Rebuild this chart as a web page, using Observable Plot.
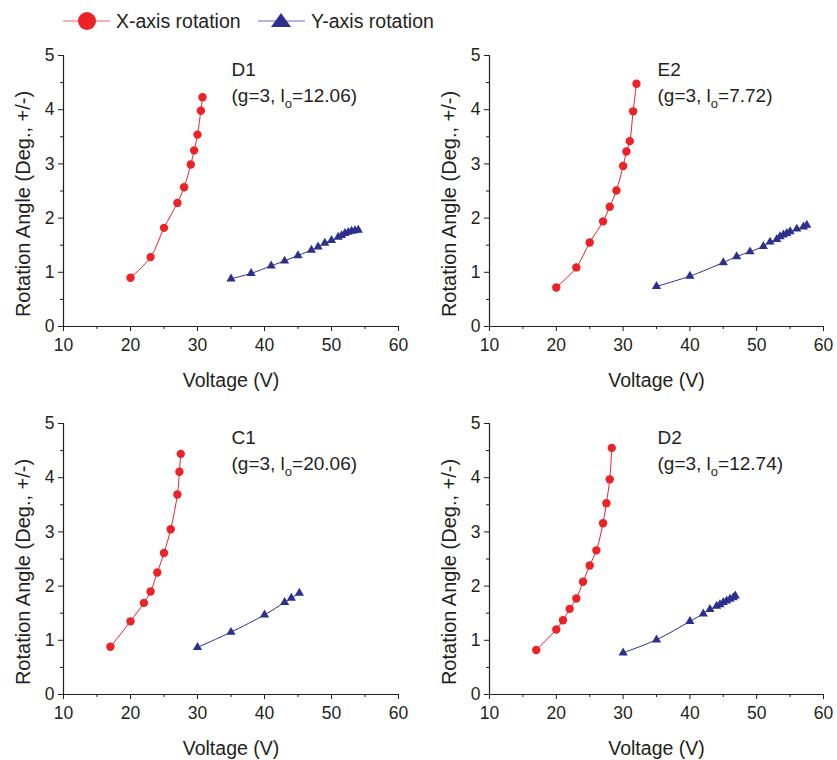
<!DOCTYPE html>
<html>
<head>
<meta charset="utf-8">
<script src="https://cdn.jsdelivr.net/npm/d3@7"></script>
<script src="https://cdn.jsdelivr.net/npm/@observablehq/plot@0.6"></script>
<style>
  body { margin: 0; background: #fff; font-family: "Liberation Sans", Arial, sans-serif; color: #231f20; }
  #wrap { position: relative; width: 837px; height: 760px; overflow: hidden; background: #fff; }
  .panel { position: absolute; }
  #legend { position: absolute; left: 0; top: 0; }
</style>
</head>
<body>
<div id="wrap">
  <svg id="legend" width="837" height="42"></svg>
</div>
<script>
// ---- tick values / labels ----
const xTicks = [10, 20, 30, 40, 50, 60];
const xMinor = [15, 25, 35, 45, 55];
const yTicks = [0, 1, 2, 3, 4, 5];
const yMinor = [0.5, 1.5, 2.5, 3.5, 4.5];
const xAxisLabel = "Voltage (V)";
const yAxisLabel = "Rotation Angle (Deg., +/-)";
const seriesNames = ["X-axis rotation", "Y-axis rotation"];
const seriesColors = ["#ed2226", "#2c2f8e"];

// ---- panel labels ----
const panelNames = ["D1", "E2", "C1", "D2"];
const gapValues = ["3", "3", "3", "3"];
const loValues = ["12.06", "7.72", "20.06", "12.74"];

// ---- D1 ----
const d1XVoltage = [20, 23, 25, 27, 28, 29, 29.5, 30, 30.5, 30.75];
const d1XAngle   = [0.90, 1.28, 1.82, 2.28, 2.57, 2.99, 3.25, 3.54, 3.98, 4.23];
const d1YVoltage = [35, 38, 41, 43, 45, 47, 48, 49, 50, 51, 51.5, 52, 52.5, 53, 53.5, 54];
const d1YAngle   = [0.88, 0.98, 1.12, 1.21, 1.31, 1.41, 1.47, 1.54, 1.59, 1.65, 1.68, 1.72, 1.74, 1.76, 1.77, 1.78];

// ---- E2 ----
const e2XVoltage = [20, 23, 25, 27, 28, 29, 30, 30.5, 31, 31.5, 32];
const e2XAngle   = [0.72, 1.09, 1.55, 1.94, 2.21, 2.51, 2.96, 3.23, 3.42, 3.97, 4.48];
const e2YVoltage = [35, 40, 45, 47, 49, 51, 52, 53, 53.5, 54, 54.5, 55, 56, 57, 57.5];
const e2YAngle   = [0.74, 0.93, 1.18, 1.29, 1.38, 1.48, 1.56, 1.61, 1.66, 1.69, 1.72, 1.75, 1.80, 1.84, 1.87];

// ---- C1 ----
const c1XVoltage = [17, 20, 22, 23, 24, 25, 26, 27, 27.3, 27.5];
const c1XAngle   = [0.88, 1.35, 1.69, 1.90, 2.25, 2.61, 3.05, 3.69, 4.11, 4.44];
const c1YVoltage = [30, 35, 40, 43, 44, 45.2];
const c1YAngle   = [0.87, 1.15, 1.47, 1.70, 1.78, 1.87];

// ---- D2 ----
const d2XVoltage = [17, 20, 21, 22, 23, 24, 25, 26, 27, 27.5, 28, 28.3];
const d2XAngle   = [0.82, 1.20, 1.37, 1.58, 1.77, 2.08, 2.38, 2.66, 3.16, 3.53, 3.97, 4.55];
const d2YVoltage = [30, 35, 40, 42, 43, 44, 44.5, 45, 45.5, 46, 46.5, 46.8];
const d2YAngle   = [0.77, 1.01, 1.35, 1.49, 1.57, 1.63, 1.66, 1.70, 1.73, 1.76, 1.79, 1.82];

const panelSeries = [
  [d1XVoltage, d1XAngle, d1YVoltage, d1YAngle],
  [e2XVoltage, e2XAngle, e2YVoltage, e2YAngle],
  [c1XVoltage, c1XAngle, c1YVoltage, c1YAngle],
  [d2XVoltage, d2XAngle, d2YVoltage, d2YAngle]
];

const FONT = '"Liberation Sans", Arial, Helvetica, sans-serif';
const INK = "#231f20";

// layout of the four panels
const layout = [
  {left: 0,   top: 30,  width: 418, marginLeft: 63, marginRight: 20},
  {left: 417, top: 30,  width: 420, marginLeft: 72, marginRight: 14},
  {left: 0,   top: 398, width: 418, marginLeft: 63, marginRight: 20},
  {left: 417, top: 398, width: 420, marginLeft: 72, marginRight: 14}
];

function makePanel(i) {
  const [xv, xa, yv, ya] = panelSeries[i];
  const xData = xv.map((v, k) => ({v, a: xa[k]}));
  const yData = yv.map((v, k) => ({v, a: ya[k]}));
  const note = `(g=${gapValues[i]}, l=${loValues[i]})`;
  const L = layout[i];
  const svg = Plot.plot({
    width: L.width,
    height: 362,
    marginLeft: L.marginLeft,
    marginRight: L.marginRight,
    marginTop: 25,
    marginBottom: 66,
    x: {domain: [xTicks[0], xTicks[xTicks.length - 1]]},
    y: {domain: [yTicks[0], yTicks[yTicks.length - 1]]},
    style: {fontFamily: FONT, color: INK, background: "transparent", overflow: "visible"},
    marks: [
      Plot.axisX({ticks: xTicks, tickFormat: d3.format("d"), tickSize: 5, tickPadding: 7, label: null, fontSize: 17.5, stroke: INK}),
      Plot.axisX({ticks: xMinor, tickSize: 3, text: null, label: null, stroke: INK}),
      Plot.axisY({ticks: yTicks, tickFormat: d3.format("d"), tickSize: 5, tickPadding: 4, label: null, fontSize: 17.5, stroke: INK}),
      Plot.axisY({ticks: yMinor, tickSize: 3, text: null, label: null, stroke: INK}),
      Plot.ruleY([yTicks[0]], {stroke: INK, strokeWidth: 1.2}),
      Plot.ruleX([xTicks[0]], {stroke: INK, strokeWidth: 1.2}),
      Plot.line(xData, {x: "v", y: "a", stroke: seriesColors[0], strokeWidth: 1, curve: "catmull-rom"}),
      Plot.dot(xData, {x: "v", y: "a", r: 4.2, fill: seriesColors[0], symbol: "circle"}),
      Plot.line(yData, {x: "v", y: "a", stroke: seriesColors[1], strokeWidth: 1, curve: "catmull-rom"}),
      Plot.dot(yData, {x: "v", y: "a", r: 3.4, fill: seriesColors[1], symbol: "triangle"}),
      Plot.text([xAxisLabel], {frameAnchor: "bottom", dy: 60, fontSize: 19.5, fill: INK}),
      Plot.text([yAxisLabel], {frameAnchor: "left", textAnchor: "middle", rotate: -90, dx: -40, dy: 13, fontSize: 20, fill: INK}),
      Plot.text([panelNames[i]], {frameAnchor: "top-left", dx: 168, dy: 6.5, lineAnchor: "top", textAnchor: "start", fontSize: 19, fill: INK}),
      Plot.text([note], {frameAnchor: "top-left", dx: 168, dy: 33, lineAnchor: "top", textAnchor: "start", fontSize: 19, fill: INK})
    ]
  });
  // subscript "o" in l_o
  svg.querySelectorAll("text").forEach(t => {
    if (t.textContent === note) {
      const ns = "http://www.w3.org/2000/svg";
      t.textContent = "";
      const a = document.createElementNS(ns, "tspan");
      a.textContent = `(g=${gapValues[i]}, l`;
      const b = document.createElementNS(ns, "tspan");
      b.textContent = "o";
      b.setAttribute("dy", "6");
      b.setAttribute("font-size", "13");
      const c = document.createElementNS(ns, "tspan");
      c.textContent = `=${loValues[i]})`;
      c.setAttribute("dy", "-6");
      t.append(a, b, c);
    }
  });
  svg.classList.add("panel");
  svg.style.left = L.left + "px";
  svg.style.top = L.top + "px";
  svg.style.position = "absolute";
  return svg;
}

const wrap = document.getElementById("wrap");
for (let i = 0; i < 4; i++) wrap.appendChild(makePanel(i));

// ---- legend ----
(function () {
  const ns = "http://www.w3.org/2000/svg";
  const g = document.getElementById("legend");
  const cy = 21;
  const items = [
    {x0: 63, x1: 110, cx: 87, tx: 116, shape: "circle"},
    {x0: 258, x1: 305, cx: 281, tx: 311, shape: "triangle"}
  ];
  items.forEach((it, k) => {
    const ln = document.createElementNS(ns, "line");
    ln.setAttribute("x1", it.x0); ln.setAttribute("x2", it.x1);
    ln.setAttribute("y1", cy); ln.setAttribute("y2", cy);
    ln.setAttribute("stroke", seriesColors[k]); ln.setAttribute("stroke-width", 1.2);
    ln.setAttribute("stroke-opacity", 0.7);
    g.appendChild(ln);
    if (it.shape === "circle") {
      const c = document.createElementNS(ns, "circle");
      c.setAttribute("cx", it.cx); c.setAttribute("cy", cy); c.setAttribute("r", 9);
      c.setAttribute("fill", seriesColors[k]);
      g.appendChild(c);
    } else {
      const p = document.createElementNS(ns, "path");
      p.setAttribute("d", `M${it.cx},${cy - 8}L${it.cx + 10},${cy + 6}L${it.cx - 10},${cy + 6}Z`);
      p.setAttribute("fill", seriesColors[k]);
      g.appendChild(p);
    }
    const t = document.createElementNS(ns, "text");
    t.setAttribute("x", it.tx); t.setAttribute("y", cy + 7);
    t.setAttribute("font-family", FONT); t.setAttribute("font-size", 19.5);
    t.setAttribute("fill", INK);
    t.textContent = seriesNames[k];
    g.appendChild(t);
  });
})();
</script>
</body>
</html>
